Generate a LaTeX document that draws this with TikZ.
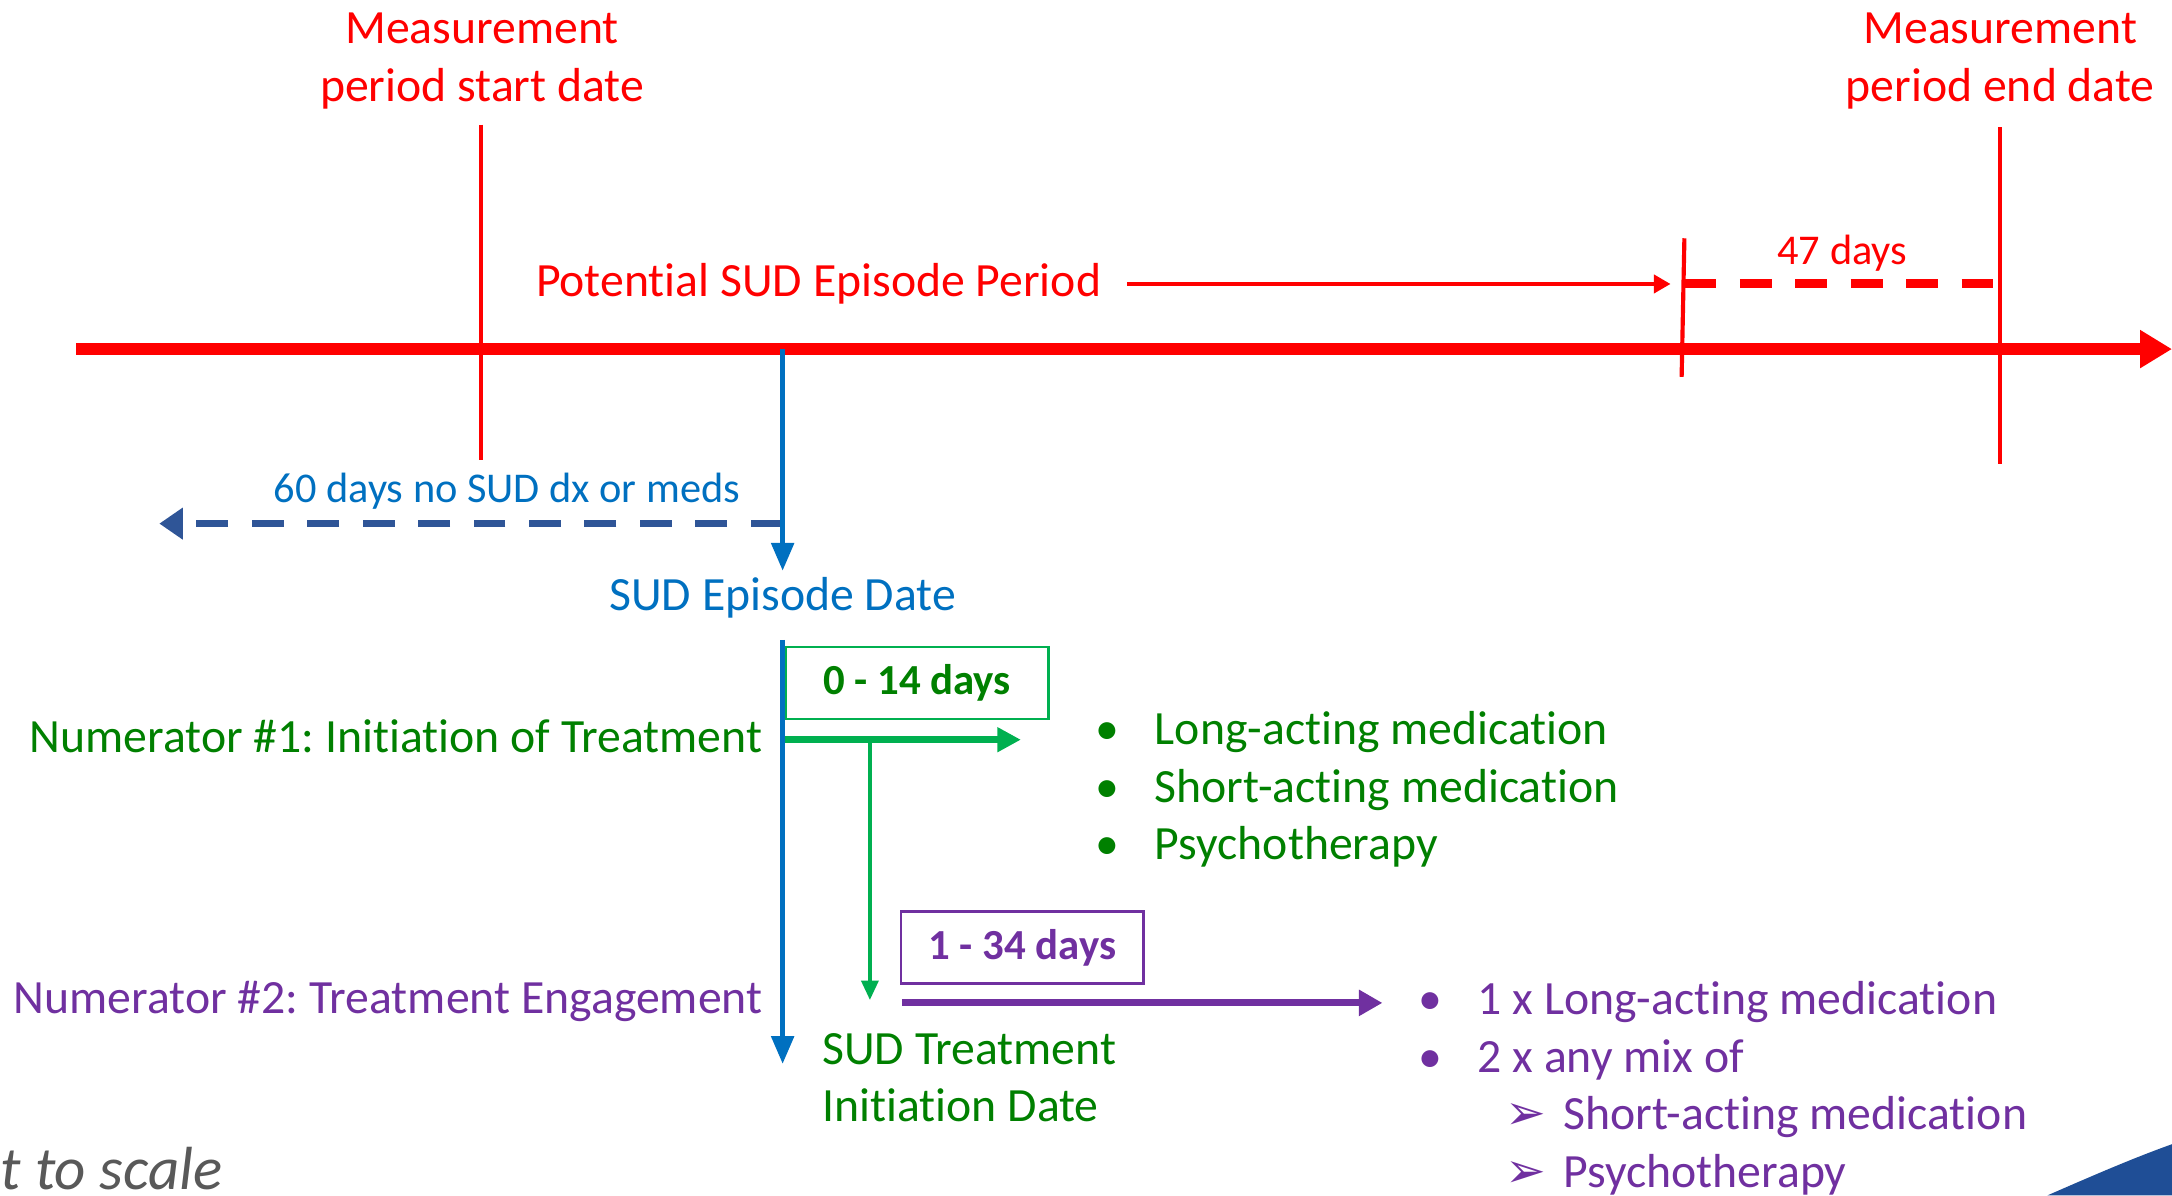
\documentclass[tikz,border=0pt]{standalone}
\usepackage{fontspec}
\setmainfont{Carlito}[Ligatures=NoCommon]
\newfontfamily\dingfont{DejaVu Sans}
\usetikzlibrary{arrows.meta}
\definecolor{diagramPeriod}{HTML}{FF0000}
\definecolor{diagramEpisode}{HTML}{0070C0}
\definecolor{diagramLookback}{HTML}{2F5597}
\definecolor{diagramInit}{HTML}{008000}
\definecolor{diagramInitLine}{HTML}{00B050}
\definecolor{diagramEngage}{HTML}{7030A0}
\definecolor{diagramNote}{HTML}{595959}
\definecolor{diagramCorner}{HTML}{1F4E96}
\newcommand{\listdot}{\makebox[0.43cm][l]{\textbullet}}
\newcommand{\listarrow}{\hspace{0.63cm}\makebox[0.42cm][l]{\dingfont\fontsize{10}{8}\selectfont ➢}}
\frenchspacing

\begin{document}
\begin{tikzpicture}[
    x=0.01cm,y=-0.01cm,
    every node/.style={font=\fontsize{9.8}{11.8}\selectfont,align=center,inner sep=0pt},
    smalltext/.style={font=\fontsize{8.7}{10.5}\selectfont},
    axis/.style={draw=diagramPeriod,line width=0.085cm,-{Triangle[length=0.23cm,width=0.26cm]}},
    tick/.style={draw=diagramPeriod,line width=0.03cm},
    periodflow/.style={draw=diagramPeriod,line width=0.028cm,-{Triangle[length=0.12cm,width=0.13cm]}},
    periodgap/.style={draw=diagramPeriod,line width=0.065cm,dash pattern=on 0.23cm off 0.17cm},
    episodeflow/.style={draw=diagramEpisode,line width=0.035cm,-{Triangle[length=0.2cm,width=0.16cm]}},
    lookback/.style={draw=diagramLookback,line width=0.055cm,dash pattern=on 0.23cm off 0.17cm,-{Triangle[length=0.17cm,width=0.22cm]}},
    initflow/.style={draw=diagramInitLine,line width=0.05cm,-{Triangle[length=0.17cm,width=0.17cm]}},
    initdrop/.style={draw=diagramInitLine,line width=0.03cm,-{Triangle[length=0.14cm,width=0.12cm]}},
    engageflow/.style={draw=diagramEngage,line width=0.05cm,-{Triangle[length=0.17cm,width=0.18cm]}},
    daysbox/.style={line width=0.5pt,minimum height=0.52cm,font=\fontsize{8.8}{10}\selectfont\bfseries}
]
\useasboundingbox (0,0) rectangle (1568,863);

\node[text=diagramPeriod] (startLbl) at (348,44) {Measurement\\period start date};
\node[text=diagramPeriod] (endLbl) at (1444,44) {Measurement\\period end date};
\node[text=diagramPeriod,anchor=base] (period) at (591,214) {Potential SUD Episode Period};
\node[smalltext,text=diagramPeriod,anchor=base] (days47) at (1330,191) {47 days};
\node[smalltext,text=diagramEpisode,anchor=base] (noDx) at (366,363) {60 days no SUD dx or meds};
\node[text=diagramEpisode,anchor=base] (episode) at (565,441) {SUD Episode Date};
\node[daysbox,draw=diagramInitLine,text=diagramInit,minimum width=1.90cm] (initBox) at (662,493) {0 - 14 days};
\node[text=diagramInit,anchor=base east] (num1) at (551,543) {Numerator \#1: Initiation of Treatment};
\node[text=diagramInit,anchor=north west,align=left] (initList) at (790,513) {\listdot Long-acting medication\\\listdot Short-acting medication\\\listdot Psychotherapy};
\node[daysbox,draw=diagramEngage,text=diagramEngage,minimum width=1.75cm] (engBox) at (738,684) {1 - 34 days};
\node[text=diagramEngage,anchor=base east] (num2) at (551,732) {Numerator \#2: Treatment Engagement};
\node[text=diagramInit,anchor=west,align=left] (initDate) at (593,778) {SUD Treatment\\Initiation Date};
\node[text=diagramEngage,anchor=north west,align=left] (engList) at (1023,708) {\listdot 1 x Long-acting medication\\\listdot 2 x any mix of\\\listarrow Short-acting medication\\\listarrow Psychotherapy};
\node[text=diagramNote,anchor=base west,font=\fontsize{12.5}{14}\selectfont\itshape] (scaleNote) at (0,859) {t to scale};

\coordinate (axisL) at (55,252);
\coordinate (axisR) at (1568,252);
\coordinate (startTop) at (347,90);
\coordinate (startBot) at (347,332);
\coordinate (endTop) at (1444,92);
\coordinate (endBot) at (1444,335);
\coordinate (gapTop) at (1216,172);
\coordinate (gapBot) at (1214,272);
\coordinate (gapL) at (1216,205);
\coordinate (gapR) at (1441,205);
\coordinate (periodEnd) at (1206,205);
\coordinate (episodeTop) at (565,252);
\coordinate (episodeTip) at (565,412);
\coordinate (lookStart) at (565,378);
\coordinate (lookEnd) at (115,378);
\coordinate (engTop) at (565,462);
\coordinate (engTip) at (565,768);
\coordinate (initStart) at (567,534);
\coordinate (initEnd) at (737,534);
\coordinate (dropStart) at (628,534);
\coordinate (dropEnd) at (628,722);
\coordinate (engStart) at (651,724);
\coordinate (engEnd) at (998,724);

\draw[axis] (axisL) -- (axisR);
\draw[tick] (startTop) -- (startBot);
\draw[tick] (endTop) -- (endBot);
\draw[tick] (gapTop) -- (gapBot);
\draw[periodflow,shorten <=0.18cm] (period.east |- periodEnd) -- (periodEnd);
\draw[periodgap] (gapL) -- (gapR);
\draw[lookback] (lookStart) -- (lookEnd);
\draw[episodeflow] (episodeTop) -- (episodeTip);
\draw[episodeflow] (engTop) -- (engTip);
\draw[initflow] (initStart) -- (initEnd);
\draw[initdrop] (dropStart) -- (dropEnd);
\draw[engageflow] (engStart) -- (engEnd);

\fill[diagramCorner] (1478,863) .. controls (1510,849) and (1540,836) .. (1568,826) -- (1568,863) -- cycle;
\end{tikzpicture}
\end{document}
